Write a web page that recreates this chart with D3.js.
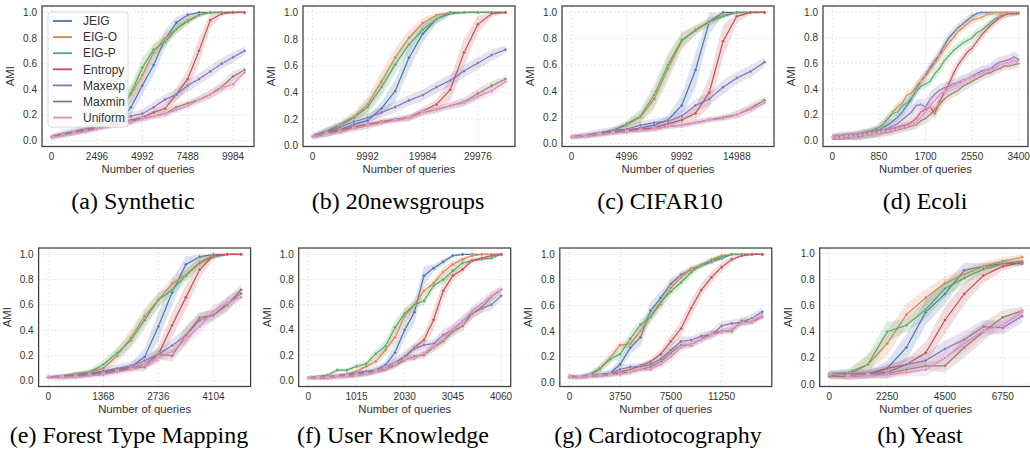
<!DOCTYPE html>
<html>
<head>
<meta charset="utf-8">
<script src="https://cdn.jsdelivr.net/npm/d3@7"></script>
<style>
  body { margin: 0; background: #fff; }
  svg text { font-family: "Liberation Sans", Arial, sans-serif; }
</style>
</head>
<body>
<svg id="chart" width="1030" height="458"></svg>
<script>
const methods = ['JEIG', 'EIG-O', 'EIG-P', 'Entropy', 'Maxexp', 'Maxmin', 'Uniform'];
const palette = ['#4c72b0', '#dd8452', '#55a868', '#c44e52', '#8172b3', '#937860', '#da8bc3'];

// (a) Synthetic
const synthX = d3.range(18).map(i => i * 624);
const synthTicks = [0, 2496, 4992, 7488, 9984];
const synthAMI = [
  [0.03,0.05,0.07,0.08,0.10,0.12,0.15,0.26,0.43,0.59,0.79,0.92,0.98,1.0,1.0,1.0,1.0,1.0],
  [0.03,0.05,0.07,0.09,0.12,0.17,0.24,0.36,0.51,0.69,0.80,0.87,0.94,0.98,1.0,1.0,1.0,1.0],
  [0.03,0.05,0.07,0.09,0.13,0.18,0.26,0.37,0.57,0.71,0.77,0.87,0.93,0.98,1.0,1.0,1.0,1.0],
  [0.03,0.05,0.06,0.08,0.10,0.12,0.14,0.16,0.18,0.22,0.25,0.36,0.48,0.70,0.94,0.99,1.0,1.0],
  [0.03,0.05,0.07,0.09,0.11,0.13,0.16,0.19,0.21,0.26,0.32,0.36,0.43,0.48,0.54,0.60,0.65,0.70],
  [0.03,0.05,0.06,0.08,0.10,0.11,0.13,0.15,0.17,0.19,0.21,0.26,0.29,0.32,0.36,0.42,0.50,0.55],
  [0.03,0.04,0.06,0.07,0.09,0.11,0.12,0.14,0.17,0.19,0.21,0.24,0.27,0.32,0.36,0.41,0.44,0.53]
];

// (b) 20newsgroups
const newsX = d3.range(15).map(i => i * 2498);
const newsTicks = [0, 9992, 19984, 29976];
const newsAMI = [
  [0.07,0.09,0.12,0.16,0.19,0.28,0.41,0.66,0.84,0.95,0.99,1.0,1.0,1.0,1.0],
  [0.07,0.11,0.16,0.22,0.31,0.48,0.66,0.81,0.92,0.98,1.0,1.0,1.0,1.0,1.0],
  [0.07,0.11,0.15,0.21,0.29,0.44,0.61,0.76,0.87,0.95,1.0,1.0,1.0,1.0,1.0],
  [0.07,0.10,0.12,0.14,0.16,0.18,0.19,0.21,0.26,0.31,0.42,0.70,0.91,0.99,1.0],
  [0.07,0.10,0.14,0.18,0.21,0.25,0.29,0.34,0.38,0.44,0.49,0.56,0.62,0.68,0.72],
  [0.07,0.09,0.11,0.13,0.15,0.18,0.20,0.21,0.25,0.27,0.30,0.33,0.39,0.45,0.50],
  [0.07,0.09,0.10,0.13,0.15,0.17,0.19,0.21,0.25,0.27,0.30,0.32,0.37,0.41,0.48]
];

// (c) CIFAR10
const cifarX = d3.range(15).map(i => i * 1249);
const cifarTicks = [0, 4996, 9992, 14988];
const cifarAMI = [
  [0.05,0.06,0.08,0.09,0.10,0.12,0.14,0.18,0.29,0.56,0.93,1.0,1.0,1.0,1.0],
  [0.05,0.06,0.08,0.10,0.14,0.20,0.34,0.57,0.78,0.87,0.93,0.98,1.0,1.0,1.0],
  [0.05,0.06,0.08,0.10,0.15,0.21,0.37,0.60,0.79,0.86,0.93,0.97,1.0,1.0,1.0],
  [0.05,0.06,0.07,0.09,0.10,0.11,0.12,0.15,0.18,0.23,0.39,0.78,0.97,1.0,1.0],
  [0.05,0.06,0.08,0.10,0.11,0.14,0.16,0.17,0.21,0.29,0.34,0.43,0.50,0.55,0.62],
  [0.05,0.06,0.07,0.08,0.09,0.10,0.11,0.13,0.14,0.16,0.18,0.20,0.22,0.27,0.33],
  [0.05,0.06,0.07,0.08,0.09,0.10,0.11,0.13,0.14,0.16,0.18,0.19,0.22,0.26,0.31]
];

// (d) Ecoli
const ecoliX = d3.range(41).map(i => i * 85);
const ecoliTicks = [0, 850, 1700, 2550, 3400];
const ecoliAMI = [
  [0.02,0.02,0.02,0.03,0.03,0.04,0.04,0.05,0.06,0.07,0.08,0.10,0.12,0.15,0.18,0.22,0.27,0.32,0.40,0.46,
   0.51,0.57,0.62,0.67,0.74,0.80,0.84,0.88,0.91,0.94,0.97,0.99,1.0,1.0,1.0,1.0,1.0,1.0,1.0,1.0,1.0],
  [0.02,0.03,0.03,0.03,0.04,0.04,0.05,0.06,0.07,0.08,0.10,0.13,0.17,0.22,0.26,0.29,0.35,0.37,0.42,0.46,
   0.50,0.55,0.60,0.66,0.71,0.76,0.80,0.85,0.88,0.91,0.94,0.95,0.96,0.98,0.99,1.0,1.0,1.0,1.0,1.0,1.0],
  [0.02,0.02,0.03,0.03,0.04,0.04,0.05,0.06,0.07,0.08,0.10,0.13,0.17,0.21,0.22,0.27,0.29,0.33,0.38,0.42,
   0.44,0.46,0.52,0.56,0.62,0.66,0.70,0.73,0.76,0.78,0.80,0.84,0.86,0.89,0.92,0.95,0.97,0.98,0.99,0.99,1.0],
  [0.02,0.02,0.02,0.03,0.03,0.03,0.04,0.04,0.05,0.05,0.06,0.07,0.08,0.09,0.10,0.11,0.12,0.14,0.17,0.22,
   0.24,0.26,0.21,0.30,0.37,0.44,0.52,0.59,0.64,0.69,0.72,0.77,0.82,0.86,0.90,0.93,0.96,0.98,0.99,0.99,0.99],
  [0.02,0.02,0.03,0.03,0.03,0.04,0.04,0.05,0.05,0.06,0.07,0.08,0.09,0.11,0.13,0.16,0.19,0.22,0.27,0.28,
   0.26,0.32,0.36,0.39,0.41,0.42,0.44,0.45,0.47,0.48,0.50,0.52,0.54,0.55,0.56,0.59,0.61,0.62,0.63,0.65,0.63],
  [0.02,0.02,0.02,0.02,0.03,0.03,0.03,0.04,0.04,0.05,0.05,0.06,0.06,0.07,0.08,0.09,0.10,0.11,0.12,0.15,
   0.17,0.20,0.24,0.28,0.32,0.35,0.37,0.39,0.42,0.44,0.46,0.48,0.50,0.52,0.53,0.55,0.56,0.58,0.58,0.59,0.60],
  [0.02,0.02,0.02,0.03,0.03,0.03,0.04,0.04,0.05,0.05,0.06,0.07,0.07,0.08,0.09,0.10,0.11,0.12,0.14,0.18,
   0.22,0.27,0.31,0.35,0.38,0.40,0.42,0.44,0.46,0.48,0.49,0.51,0.52,0.54,0.55,0.57,0.59,0.60,0.61,0.63,0.61]
];

// (e) Forest Type Mapping
const forestX = d3.range(15).map(i => i * 342);
const forestTicks = [0, 1368, 2736, 4104];
const forestAMI = [
  [0.03,0.03,0.04,0.05,0.07,0.09,0.11,0.19,0.43,0.70,0.92,0.98,1.0,1.0,1.0],
  [0.03,0.04,0.06,0.07,0.10,0.20,0.34,0.51,0.64,0.77,0.84,0.94,0.99,1.0,1.0],
  [0.03,0.04,0.05,0.07,0.13,0.22,0.32,0.48,0.64,0.72,0.83,0.93,0.98,1.0,1.0],
  [0.03,0.03,0.04,0.05,0.06,0.08,0.10,0.13,0.21,0.44,0.66,0.88,0.99,1.0,1.0],
  [0.03,0.03,0.04,0.06,0.08,0.10,0.12,0.16,0.21,0.28,0.36,0.48,0.52,0.61,0.69],
  [0.03,0.03,0.04,0.05,0.06,0.08,0.10,0.11,0.21,0.20,0.36,0.50,0.52,0.60,0.72],
  [0.03,0.03,0.03,0.04,0.05,0.07,0.09,0.13,0.19,0.23,0.33,0.43,0.55,0.62,0.66]
];

// (f) User Knowledge
const userX = d3.range(21).map(i => i * 203);
const userTicks = [0, 1015, 2030, 3045, 4060];
const userAMI = [
  [0.02,0.02,0.02,0.03,0.04,0.06,0.07,0.08,0.12,0.22,0.40,0.54,0.83,0.89,0.94,0.99,1.0,1.0,1.0,1.0,1.0],
  [0.02,0.02,0.03,0.04,0.05,0.07,0.11,0.15,0.24,0.34,0.51,0.60,0.71,0.77,0.86,0.92,0.96,0.99,1.0,1.0,1.0],
  [0.02,0.03,0.04,0.08,0.08,0.11,0.13,0.21,0.27,0.42,0.53,0.60,0.63,0.75,0.80,0.87,0.93,0.95,0.96,0.97,1.0],
  [0.02,0.02,0.02,0.03,0.03,0.04,0.05,0.07,0.09,0.13,0.18,0.26,0.32,0.48,0.71,0.83,0.88,0.95,0.97,0.99,1.0],
  [0.02,0.02,0.02,0.03,0.04,0.05,0.06,0.08,0.10,0.14,0.19,0.25,0.28,0.29,0.36,0.40,0.47,0.53,0.57,0.60,0.67],
  [0.02,0.02,0.02,0.03,0.03,0.04,0.05,0.07,0.09,0.12,0.16,0.19,0.20,0.26,0.31,0.39,0.43,0.53,0.58,0.66,0.72],
  [0.02,0.02,0.02,0.03,0.03,0.04,0.05,0.07,0.10,0.13,0.17,0.17,0.22,0.27,0.33,0.41,0.46,0.55,0.61,0.67,0.72]
];

// (g) Cardiotocography
const cardioX = d3.range(20).map(i => i * 750);
const cardioTicks = [0, 3750, 7500, 11250];
const cardioAMI = [
  [0.04,0.04,0.05,0.06,0.07,0.14,0.27,0.35,0.56,0.66,0.77,0.84,0.88,0.91,0.94,0.97,1.0,1.0,1.0,1.0],
  [0.05,0.04,0.06,0.10,0.19,0.29,0.30,0.40,0.52,0.61,0.74,0.82,0.89,0.91,0.96,0.99,1.0,1.0,1.0,1.0],
  [0.05,0.04,0.06,0.11,0.18,0.22,0.34,0.45,0.51,0.63,0.71,0.78,0.86,0.92,0.95,0.98,1.0,1.0,1.0,1.0],
  [0.04,0.04,0.05,0.05,0.06,0.08,0.10,0.13,0.16,0.22,0.32,0.42,0.58,0.72,0.82,0.90,0.96,0.99,1.0,1.0],
  [0.04,0.04,0.05,0.06,0.07,0.10,0.12,0.12,0.14,0.18,0.25,0.32,0.33,0.36,0.37,0.44,0.46,0.47,0.50,0.55],
  [0.04,0.04,0.05,0.05,0.06,0.07,0.08,0.10,0.12,0.16,0.23,0.29,0.29,0.34,0.38,0.40,0.40,0.48,0.47,0.51],
  [0.04,0.04,0.05,0.05,0.06,0.06,0.08,0.10,0.10,0.14,0.20,0.27,0.30,0.33,0.37,0.39,0.42,0.46,0.48,0.52]
];

// (h) Yeast
const yeastX = d3.range(11).map(i => i * 750);
const yeastTicks = [0, 2250, 4500, 6750];
const yeastAMI = [
  [0.07,0.08,0.08,0.12,0.28,0.55,0.69,0.87,0.90,0.92,0.92],
  [0.07,0.07,0.15,0.31,0.53,0.66,0.77,0.84,0.90,0.94,0.97],
  [0.08,0.09,0.15,0.40,0.45,0.57,0.73,0.81,0.88,0.92,0.94],
  [0.07,0.06,0.07,0.12,0.15,0.24,0.49,0.69,0.83,0.90,0.93],
  [0.07,0.08,0.08,0.09,0.15,0.18,0.27,0.34,0.44,0.43,0.52],
  [0.06,0.06,0.07,0.08,0.11,0.14,0.14,0.28,0.40,0.51,0.56],
  [0.08,0.06,0.07,0.07,0.09,0.11,0.20,0.31,0.41,0.45,0.55]
];

const panels = [
  { caption: '(a) Synthetic', x: synthX, ticks: synthTicks, ami: synthAMI, noise: 0 },
  { caption: '(b) 20newsgroups', x: newsX, ticks: newsTicks, ami: newsAMI, noise: 0 },
  { caption: '(c) CIFAR10', x: cifarX, ticks: cifarTicks, ami: cifarAMI, noise: 0 },
  { caption: '(d) Ecoli', x: ecoliX, ticks: ecoliTicks, ami: ecoliAMI, noise: 0.015 },
  { caption: '(e) Forest Type Mapping', x: forestX, ticks: forestTicks, ami: forestAMI, noise: 0 },
  { caption: '(f) User Knowledge', x: userX, ticks: userTicks, ami: userAMI, noise: 0 },
  { caption: '(g) Cardiotocography', x: cardioX, ticks: cardioTicks, ami: cardioAMI, noise: 0 },
  { caption: '(h) Yeast', x: yeastX, ticks: yeastTicks, ami: yeastAMI, noise: 0.01 }
];

// plot boxes and caption anchors
const boxes = [
  { left: 42, top: 6, w: 212, h: 140.5, capX: 133, capY: 209 },
  { left: 303, top: 6, w: 212, h: 140.5, capX: 398, capY: 209 },
  { left: 562, top: 6, w: 212, h: 140.5, capX: 660, capY: 209 },
  { left: 823, top: 6, w: 205, h: 140.5, capX: 925, capY: 209 },
  { left: 38.6, top: 248, w: 212, h: 138.5, capX: 129, capY: 443 },
  { left: 298.7, top: 248, w: 212, h: 138.5, capX: 393, capY: 443 },
  { left: 559.8, top: 248, w: 212, h: 138.5, capX: 658, capY: 443 },
  { left: 819.7, top: 248, w: 212, h: 138.5, capX: 920, capY: 443 }
];
const bandBase = [0.006, 0.006, 0.006, 0.006, 0.022, 0.014, 0.014];
const bandGain = 0.4;

const svg = d3.select('#chart');

function bandOf(ys, s, noise) {
  return ys.map((y, i) => {
    const a = i > 0 ? Math.abs(y - ys[i - 1]) : 0;
    const b = i < ys.length - 1 ? Math.abs(ys[i + 1] - y) : 0;
    const h = bandBase[s] + noise + bandGain * (a + b) / 2;
    return [Math.max(0, y - h), Math.min(1, y + h)];
  });
}

function pad(ext, f = 0.05) {
  const r = ext[1] - ext[0];
  return [ext[0] - r * f, ext[1] + r * f];
}

panels.forEach((p, pi) => {
  const box = boxes[pi];
  const plotW = box.w;
  const bands = p.ami.map((ys, s) => bandOf(ys, s, p.noise));
  const lo = d3.min(bands, b => d3.min(b, d => d[0]));
  const hi = d3.max(bands, b => d3.max(b, d => d[1]));

  const x = d3.scaleLinear().domain(pad(d3.extent(p.x))).range([0, plotW]);
  const y = d3.scaleLinear().domain(pad([lo, hi])).range([box.h, 0]);

  const g = svg.append('g').attr('transform', `translate(${box.left},${box.top})`);

  g.append('clipPath').attr('id', 'clip' + pi)
    .append('rect').attr('width', plotW).attr('height', box.h);

  // grid
  const yTicks = [0, 0.2, 0.4, 0.6, 0.8, 1.0].filter(t => t >= y.domain()[0] && t <= y.domain()[1]);
  g.append('g').selectAll('line').data(p.ticks).join('line')
    .attr('x1', d => x(d)).attr('x2', d => x(d))
    .attr('y1', 0).attr('y2', box.h)
    .attr('stroke', '#dedede').attr('stroke-width', 0.7).attr('stroke-dasharray', '2,2');
  g.append('g').selectAll('line').data(yTicks).join('line')
    .attr('x1', 0).attr('x2', plotW)
    .attr('y1', d => y(d)).attr('y2', d => y(d))
    .attr('stroke', '#dedede').attr('stroke-width', 0.7).attr('stroke-dasharray', '2,2');

  const plot = g.append('g').attr('clip-path', `url(#clip${pi})`);

  p.ami.forEach((ys, s) => {
    const pts = ys.map((v, i) => ({ x: p.x[i], y: v, lo: bands[s][i][0], hi: bands[s][i][1] }));
    plot.append('path').datum(pts)
      .attr('d', d3.area().x(d => x(d.x)).y0(d => y(d.lo)).y1(d => y(d.hi)))
      .attr('fill', palette[s]).attr('fill-opacity', 0.2);
    plot.append('path').datum(pts)
      .attr('d', d3.line().x(d => x(d.x)).y(d => y(d.y)))
      .attr('fill', 'none').attr('stroke', palette[s]).attr('stroke-width', 1.2);
    plot.append('g').selectAll('circle').data(pts).join('circle')
      .attr('cx', d => x(d.x)).attr('cy', d => y(d.y))
      .attr('r', pi === 3 ? 1.1 : 1.6)
      .attr('fill', palette[s]).attr('stroke', '#fff').attr('stroke-width', 0.3);
  });

  // frame
  g.append('rect').attr('width', plotW).attr('height', box.h)
    .attr('fill', 'none').attr('stroke', '#3d3d3d').attr('stroke-width', 1.25);

  // tick labels
  g.append('g').selectAll('text').data(p.ticks).join('text')
    .attr('x', d => x(d)).attr('y', box.h + 13.5)
    .attr('text-anchor', 'middle').attr('font-size', '10px').attr('fill', '#333')
    .text(d => d);
  g.append('g').selectAll('text').data(yTicks).join('text')
    .attr('x', -5).attr('y', d => y(d)).attr('dy', '0.35em')
    .attr('text-anchor', 'end').attr('font-size', '10px').attr('fill', '#333')
    .text(d3.format('.1f'));

  g.append('text')
    .attr('x', plotW / 2).attr('y', box.h + 26)
    .attr('text-anchor', 'middle').attr('font-size', '11.3px').attr('fill', '#333')
    .text('Number of queries');
  g.append('text')
    .attr('transform', `translate(-28,${box.h / 2}) rotate(-90)`)
    .attr('text-anchor', 'middle').attr('font-size', '11.3px').attr('fill', '#333')
    .text('AMI');

  svg.append('text')
    .attr('x', box.capX).attr('y', box.capY)
    .attr('text-anchor', 'middle')
    .style('font-family', '"Liberation Serif", "Times New Roman", serif')
    .attr('font-size', '24px').attr('fill', '#000')
    .text(p.caption);

  // legend only in the first panel
  if (pi === 0) {
    const lg = g.append('g').attr('transform', 'translate(6,6)');
    lg.append('rect').attr('width', 80).attr('height', 115).attr('rx', 3)
      .attr('fill', '#fff').attr('fill-opacity', 0.85)
      .attr('stroke', '#d0d0d0').attr('stroke-width', 0.8);
    methods.forEach((m, s) => {
      const yy = 9 + s * 16.1;
      lg.append('line').attr('x1', 5).attr('x2', 24).attr('y1', yy).attr('y2', yy)
        .attr('stroke', palette[s]).attr('stroke-width', 1.8);
      lg.append('text').attr('x', 35).attr('y', yy).attr('dy', '0.35em')
        .attr('font-size', '12px').attr('fill', '#333').text(m);
    });
  }
});
</script>
</body>
</html>
